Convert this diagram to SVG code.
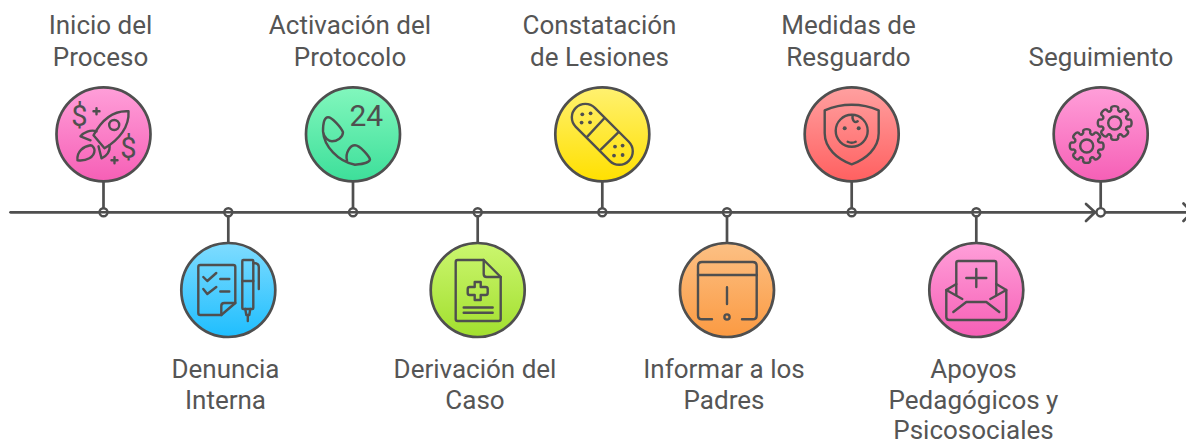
<svg xmlns="http://www.w3.org/2000/svg" xmlns:xlink="http://www.w3.org/1999/xlink" width="1186" height="441" viewBox="0 0 1186 441">
<style>
.c{stroke:#4f4f4f;stroke-width:2.7}
.i{fill:none;stroke:#4f4f4f;stroke-width:2.4;stroke-linecap:round;stroke-linejoin:round}
.d{fill:#4f4f4f;stroke:none}
.l{font-family:Roboto,"Liberation Sans",sans-serif;font-size:26px;fill:#555;text-anchor:middle}
.g{font-family:Roboto,"Liberation Sans",sans-serif;fill:#4f4f4f;font-weight:400}
.s{fill:none;stroke:#4f4f4f;stroke-width:2.7;stroke-linecap:round;stroke-linejoin:round}
.o{fill:#fff;stroke:#4f4f4f;stroke-width:2.4}
</style>
<defs>
<linearGradient id="pink" x1="0" y1="0" x2="0" y2="1"><stop offset="0" stop-color="#ff9fd9"/><stop offset="1" stop-color="#f65fb6"/></linearGradient>
<linearGradient id="blue" x1="0" y1="0" x2="0" y2="1"><stop offset="0" stop-color="#7fdcff"/><stop offset="1" stop-color="#1fbefe"/></linearGradient>
<linearGradient id="green" x1="0" y1="0" x2="0" y2="1"><stop offset="0" stop-color="#82f7bd"/><stop offset="1" stop-color="#3ddf9a"/></linearGradient>
<linearGradient id="lime" x1="0" y1="0" x2="0" y2="1"><stop offset="0" stop-color="#cbf66f"/><stop offset="1" stop-color="#a2df2e"/></linearGradient>
<linearGradient id="yellow" x1="0" y1="0" x2="0" y2="1"><stop offset="0" stop-color="#fff170"/><stop offset="1" stop-color="#ffe000"/></linearGradient>
<linearGradient id="orange" x1="0" y1="0" x2="0" y2="1"><stop offset="0" stop-color="#fcc084"/><stop offset="1" stop-color="#fb9a42"/></linearGradient>
<linearGradient id="red" x1="0" y1="0" x2="0" y2="1"><stop offset="0" stop-color="#ffa0a0"/><stop offset="1" stop-color="#ff6060"/></linearGradient>
<path id="tooth" d="M11.55,-4.78 Q12.2,-3.4 13.2,-3.4 L15,-3.6 Q16.9,-3.2 16.9,0 Q16.9,3.2 15,3.6 L13.2,3.4 Q12.2,3.4 11.55,4.78"/>
<g id="gear" class="i">
<use xlink:href="#tooth"/><use xlink:href="#tooth" transform="rotate(45)"/><use xlink:href="#tooth" transform="rotate(90)"/><use xlink:href="#tooth" transform="rotate(135)"/><use xlink:href="#tooth" transform="rotate(180)"/><use xlink:href="#tooth" transform="rotate(225)"/><use xlink:href="#tooth" transform="rotate(270)"/><use xlink:href="#tooth" transform="rotate(315)"/>
<circle r="6.5"/>
</g>
</defs>

<g id="connectors">
<path class="s" d="M10.5,212.3 H1095"/>
<path class="s" d="M1100,212.3 H1186"/>
<path class="s" d="M103.5,181 V212 M228.3,212 V243 M353,181 V212 M477.7,212 V243 M602.3,181 V212 M727,212 V243 M851.7,181 V212 M976.3,212 V243 M1100.7,181 V208"/>
<path class="s" d="M1086,204 L1095,212.3 L1086,221"/>
<path class="s" d="M1183.5,203.5 L1192,212.3 L1183.5,221"/>
<circle class="o" cx="103.5" cy="212.3" r="4"/>
<circle class="o" cx="228.3" cy="212.3" r="4"/>
<circle class="o" cx="353" cy="212.3" r="4"/>
<circle class="o" cx="477.7" cy="212.3" r="4"/>
<circle class="o" cx="602.3" cy="212.3" r="4"/>
<circle class="o" cx="727" cy="212.3" r="4"/>
<circle class="o" cx="851.7" cy="212.3" r="4"/>
<circle class="o" cx="976.3" cy="212.3" r="4"/>
<circle class="o" cx="1100.7" cy="212.3" r="4.2"/>
<path d="M99.5,212.3 H107.5 M224.3,212.3 H232.3 M349,212.3 H357 M473.7,212.3 H481.7 M598.3,212.3 H606.3 M723,212.3 H731 M847.7,212.3 H855.7 M972.3,212.3 H980.3" stroke="#4f4f4f" stroke-width="2.4" fill="none"/>
</g>

<g id="node-inicio">
<circle class="c" cx="103.5" cy="134.3" r="47" fill="url(#pink)"/>
<g transform="translate(103.5,134.3)">
<g class="i">
<path d="M25,-23 C10,-24 -2,-14 -10,1 L1,14 C16,5 26,-8 25,-23 Z"/>
<circle cx="10.7" cy="-9.3" r="5"/>
<path d="M-7,-3 C-13,-5 -20,-2 -23,2 L-13,6"/>
<path d="M6,11 C7,17 3,22 -2,24 L-5,12"/>
<path d="M-26,26 C-27,17 -20,12 -13,11 C-11,11 -9,14 -9,16 C-9,23 -17,27 -26,26 Z"/>
<path d="M-7,-26 V-20 M-10,-23 H-4 M11,23 V29 M8,26 H14"/>
</g>
<text class="g" x="-24" y="-8" font-size="29" text-anchor="middle">$</text>
<text class="g" x="25" y="24" font-size="29" text-anchor="middle">$</text>
</g>
<text class="l" x="100.5" y="34">Inicio del</text>
<text class="l" x="100.5" y="66">Proceso</text>
</g>

<g id="node-denuncia">
<circle class="c" cx="228.3" cy="290" r="47" fill="url(#blue)"/>
<g transform="translate(228.3,290)" class="i">
<path d="M-28,-25 H5 q2,0 2,2 V13 L-7,25 H-28 q-2,0 -2,-2 V-23 q0,-2 2,-2 Z"/>
<path d="M7,13 H-4 q-3,0 -3,3 V25"/>
<path d="M-25,-13 L-21,-9 L-12,-17 M-8,-11 H1 M-25,-1 L-21,4 L-12,-3 M-8,1.5 H1"/>
<rect x="14" y="-30" width="11" height="49" rx="1"/>
<path d="M14,-9 H25 M25,-27 Q30.5,-27 30.5,-23 V-1"/>
<path d="M17,19 L18,25 H21 L22,19 M19.5,25 V31"/>
</g>
<text class="l" x="225.5" y="378">Denuncia</text>
<text class="l" x="225.5" y="409">Interna</text>
</g>

<g id="node-activacion">
<circle class="c" cx="353" cy="134.3" r="47" fill="url(#green)"/>
<g transform="translate(353,134.3)">
<g class="i">
<path d="M-30,-3 C-30,-10 -29,-17 -25,-17 C-21,-17 -12,-7 -10,-2 C-10,3 -16,7 -21,7 C-24,7 -29,4 -30,-3 C-29,12 -15,27 2,30.5 C10,30 17,28 17,25 C16,22 7,11 2,11 C-3,11 -8,19 -6,26"/>
</g>
<text class="g" x="-3.5" y="-8" font-size="30">24</text>
</g>
<text class="l" x="350" y="34">Activación del</text>
<text class="l" x="350" y="66">Protocolo</text>
</g>

<g id="node-derivacion">
<circle class="c" cx="477.7" cy="290" r="47" fill="url(#lime)"/>
<g transform="translate(477.7,290)" class="i">
<path d="M-20,-30 H6 L23,-13 V29 q0,2 -2,2 H-20 q-2,0 -2,-2 V-28 q0,-2 2,-2 Z"/>
<path d="M6,-30 V-16 q0,3 3,3 H23"/>
<path d="M-3,-8 H3 V-3 H8 q2,0 2,2 V3 q0,2 -2,2 H3 V10 H-3 V5 H-8 q-2,0 -2,-2 V-1 q0,-2 2,-2 H-3 Z"/>
<path d="M-14,17.5 H15 M-14,22.7 H15"/>
</g>
<text class="l" x="475" y="378">Derivación del</text>
<text class="l" x="475" y="409">Caso</text>
</g>

<g id="node-constatacion">
<circle class="c" cx="602.3" cy="134.3" r="47" fill="url(#yellow)"/>
<g transform="translate(602.3,134.3)">
<g class="i">
<rect x="-37.5" y="-13.5" width="75" height="27" rx="13.5" transform="rotate(45)"/>
<path d="M2,-16 L-15,2.3 M16,-2 L-1.3,15"/>
</g>
<circle class="d" cx="-20" cy="-20" r="1.9"/><circle class="d" cx="-11.7" cy="-21" r="1.9"/><circle class="d" cx="-20.7" cy="-11.7" r="1.9"/><circle class="d" cx="-12.3" cy="-12" r="1.9"/>
<circle class="d" cx="12.7" cy="12.3" r="1.9"/><circle class="d" cx="20.3" cy="11.3" r="1.9"/><circle class="d" cx="11.7" cy="21.3" r="1.9"/><circle class="d" cx="20.3" cy="20.7" r="1.9"/>
</g>
<text class="l" x="599.5" y="34">Constatación</text>
<text class="l" x="599.5" y="66">de Lesiones</text>
</g>

<g id="node-informar">
<circle class="c" cx="727" cy="290" r="47" fill="url(#orange)"/>
<g transform="translate(727,290)" class="i">
<path d="M-15,29.3 H-25 q-4,0 -4,-4 V-24 q0,-4 4,-4 H25.7 q4,0 4,4 V25.3 q0,4 -4,4 H15"/>
<path d="M-29,-15 H29.7 M0,-2.7 V14"/>
<circle cx="0" cy="27" r="2.6"/>
</g>
<text class="l" x="724" y="378">Informar a los</text>
<text class="l" x="724" y="409">Padres</text>
</g>

<g id="node-medidas">
<circle class="c" cx="851.7" cy="134.3" r="47" fill="url(#red)"/>
<g transform="translate(851.7,134.3)">
<g class="i">
<path d="M0,-29.5 C-10,-29.5 -20,-27 -27,-24 V-1 C-27,14 -14,25 0,30 C14,25 27,14 27,-1 V-24 C20,-27 10,-29.5 0,-29.5 Z"/>
<circle cx="0" cy="-3.5" r="16"/>
<path d="M-4,7.5 Q0,9.5 4,7.5"/>
<path d="M1,-19 C0,-14 3,-11 6,-13"/>
</g>
<circle class="d" cx="-7" cy="-6" r="2"/><circle class="d" cx="7" cy="-6" r="2"/>
</g>
<text class="l" x="848.5" y="34">Medidas de</text>
<text class="l" x="848.5" y="66">Resguardo</text>
</g>

<g id="node-apoyos">
<circle class="c" cx="976.3" cy="290" r="47" fill="url(#pink)"/>
<g transform="translate(976.3,290)" class="i">
<path d="M-20,5 V-27 q0,-2 2,-2 H18 q2,0 2,2 V5"/>
<path d="M0,-21 V-3 M-10,-12 H10"/>
<path d="M-20,-6 L-30,0 V27 q0,3 3,3 H27 q3,0 3,-3 V0 L20,-6"/>
<path d="M-30,0 L-14,9 M30,0 L14,9"/>
<path d="M-23,22 L-10,12 H10 L23,22"/>
</g>
<text class="l" x="973.5" y="378">Apoyos</text>
<text class="l" x="973.5" y="409">Pedagógicos y</text>
<text class="l" x="973.5" y="439">Psicosociales</text>
</g>

<g id="node-seguimiento">
<circle class="c" cx="1100.7" cy="134.3" r="47" fill="url(#pink)"/>
<use xlink:href="#gear" transform="translate(1114.7,123)"/>
<use xlink:href="#gear" transform="translate(1086.7,146)"/>
<text class="l" x="1101" y="66">Seguimiento</text>
</g>
</svg>
